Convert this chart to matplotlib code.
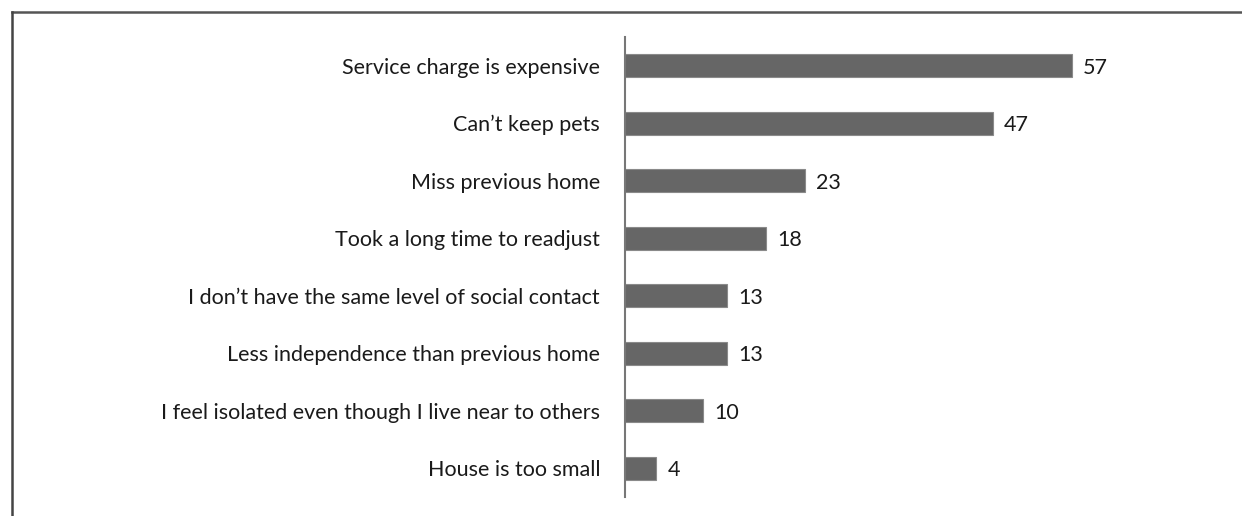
import matplotlib
matplotlib.use("Agg")
import matplotlib.pyplot as plt
from matplotlib.lines import Line2D

categories = [
    "Service charge is expensive",
    "Can\u2019t keep pets",
    "Miss previous home",
    "Took a long time to readjust",
    "I don\u2019t have the same level of social contact",
    "Less independence than previous home",
    "I feel isolated even though I live near to others",
    "House is too small",
]
values = [57, 47, 23, 18, 13, 13, 10, 4]

plt.rcParams['font.family'] = ['Lato', 'DejaVu Sans']

W, H = 1242, 516
fig = plt.figure(figsize=(W / 100, H / 100), dpi=100)
ax = fig.add_axes([625 / W, 1 - 497 / H, (1095 - 625) / W, (497 - 37) / H])

y = list(range(len(categories)))
ax.barh(y, values, height=0.4, color="#666666", edgecolor="#8a8a8a", linewidth=0.8)
ax.set_ylim(len(categories) - 0.5, -0.5)
ax.set_xlim(0, 60)
ax.set_yticks(y)
ax.set_yticklabels(categories, fontsize=15.5, color="#1a1a1a")
for lbl in ax.get_yticklabels():
    lbl.set_verticalalignment("center_baseline")
ax.tick_params(axis='y', length=0, pad=18)
ax.set_xticks([])
for s in ["top", "right", "bottom"]:
    ax.spines[s].set_visible(False)
ax.spines["left"].set_color("#777777")
ax.spines["left"].set_linewidth(1.5)

for yi, v in zip(y, values):
    ax.text(v + 1.4, yi, str(v), va="center_baseline", ha="left", fontsize=15.5, color="#1a1a1a")

# outer frame (top and left edges)
fig.add_artist(Line2D([11.5 / W, 1], [1 - 12 / H, 1 - 12 / H], transform=fig.transFigure, color="#555555", linewidth=1.8))
fig.add_artist(Line2D([12 / W, 12 / W], [0, 1 - 12 / H], transform=fig.transFigure, color="#444444", linewidth=1.8))

fig.savefig("out.png", dpi=100)
